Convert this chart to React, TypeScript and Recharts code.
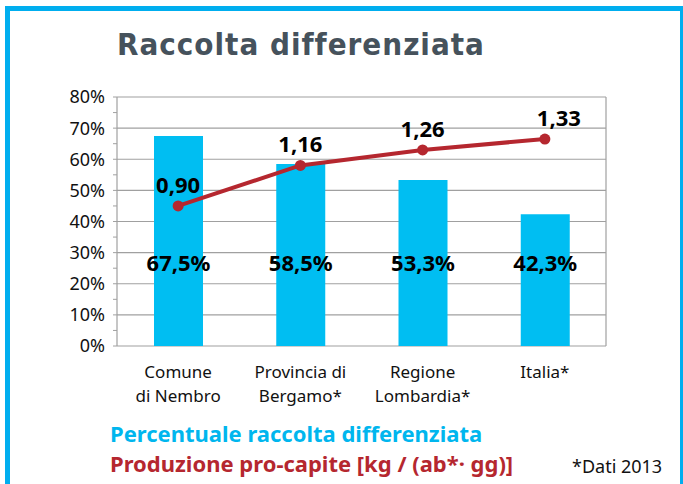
import React from "react";
import {
  Bar,
  CartesianGrid,
  ComposedChart,
  LabelList,
  Line,
  XAxis,
  YAxis,
} from "recharts";

// values
const categories = [
  "Comune\ndi Nembro",
  "Provincia di\nBergamo*",
  "Regione\nLombardia*",
  "Italia*",
];
const percentuale = [67.5, 58.5, 53.3, 42.3];
const proCapite = [0.9, 1.16, 1.26, 1.33];

const pctTicks = [0, 5, 10, 15, 20, 25, 30, 35, 40, 45, 50, 55, 60, 65, 70, 75, 80];
const pctMajor = [0, 10, 20, 30, 40, 50, 60, 70, 80];
const kgTicks = [0, 0.1, 0.2, 0.3, 0.4, 0.5, 0.6, 0.7, 0.8, 0.9, 1, 1.1, 1.2, 1.3, 1.4, 1.5, 1.6];
const edgeTicks = [0, 1, 2, 3, 4];

const data = categories.map((name, i) => ({
  name,
  pct: percentuale[i],
  kg: proCapite[i],
}));

const CYAN = "#00BEF2";
const RED = "#B5272F";
const GRID = "#a0a0a0";
const FONT = "'Noto Sans', sans-serif";

const CategoryTick = (props: any) => {
  const { x, y, payload } = props;
  const lines = String(payload.value).split("\n");
  return (
    <text x={x} y={y} textAnchor="middle" fontFamily={FONT} fontSize={17} fill="#111">
      {lines.map((l, i) => (
        <tspan key={i} x={x} y={y + 32 + i * 24}>
          {l}
        </tspan>
      ))}
    </text>
  );
};

const BarValue = (props: any) => {
  const { x, y, width, height, value } = props;
  return (
    <text
      x={x + width / 2}
      y={y + height - 75}
      textAnchor="middle"
      fontFamily={FONT}
      fontWeight={700}
      fontSize={22}
      fill="#000"
    >
      {Number(value).toFixed(1).replace(".", ",")}%
    </text>
  );
};

const LineValue = (props: any) => {
  const { x, y, value, index } = props;
  const dx = index === data.length - 1 ? 14 : 0;
  return (
    <text
      x={x + dx}
      y={y - 13}
      textAnchor="middle"
      fontFamily={FONT}
      fontWeight={700}
      fontSize={22}
      fill="#000"
    >
      {Number(value).toFixed(2).replace(".", ",")}
    </text>
  );
};

export default function App() {
  return (
    <div
      style={{
        position: "absolute",
        left: 0,
        top: 0,
        width: 683,
        height: 484,
        background: "#fff",
        overflow: "hidden",
      }}
    >
      <div
        style={{
          position: "absolute",
          left: 5,
          top: 6,
          width: 680,
          height: 520,
          boxSizing: "border-box",
          border: "5px solid #00AEEF",
        }}
      />
      <div
        style={{
          position: "absolute",
          left: 117,
          top: 29,
          fontFamily: "'DejaVu Sans', sans-serif",
          fontStretch: "condensed",
          fontWeight: 700,
          fontSize: 31,
          lineHeight: "31px",
          letterSpacing: 1,
          color: "#46525C",
          whiteSpace: "nowrap",
        }}
      >
        Raccolta differenziata
      </div>

      <div style={{ position: "absolute", left: 0, top: 0 }}>
        <ComposedChart
          width={683}
          height={420}
          data={data}
          margin={{ top: 97, right: 67, bottom: 0, left: 0 }}
        >
          <CartesianGrid
            xAxisId="cat"
            yAxisId="pct"
            vertical={false}
            horizontalValues={pctMajor}
            stroke={GRID}
            strokeWidth={1.2}
          />
          <XAxis
            xAxisId="edge"
            type="number"
            domain={[0, 4]}
            ticks={edgeTicks}
            allowDataOverflow
            tick={false}
            tickSize={5}
            tickLine={{ stroke: GRID }}
            axisLine={{ stroke: GRID, strokeWidth: 1.2 }}
            height={0}
          />
          <XAxis
            xAxisId="cat"
            dataKey="name"
            axisLine={false}
            tickLine={false}
            tickSize={0}
            tickMargin={0}
            interval={0}
            height={74}
            tick={<CategoryTick />}
          />
          <YAxis
            yAxisId="pct"
            domain={[0, 80]}
            ticks={pctTicks}
            interval={0}
            width={117}
            tickSize={4}
            tickMargin={8}
            tickFormatter={(v: number) => (v % 10 === 0 ? `${v}%` : "")}
            tick={{ fill: "#111", fontSize: 18, fontFamily: FONT }}
            tickLine={{ stroke: GRID }}
            axisLine={{ stroke: GRID, strokeWidth: 1.2 }}
          />
          <YAxis
            yAxisId="kg"
            orientation="right"
            domain={[0, 1.6]}
            ticks={kgTicks}
            interval={0}
            width={10}
            tick={false}
            tickSize={4}
            tickLine={{ stroke: GRID }}
            axisLine={{ stroke: GRID, strokeWidth: 1.2 }}
          />
          <Bar
            xAxisId="cat"
            yAxisId="pct"
            dataKey="pct"
            fill={CYAN}
            barSize={49}
            isAnimationActive={false}
          >
            <LabelList dataKey="pct" content={<BarValue />} />
          </Bar>
          <Line
            xAxisId="cat"
            yAxisId="kg"
            dataKey="kg"
            stroke={RED}
            strokeWidth={4}
            dot={{ r: 5.5, fill: RED, stroke: RED, strokeWidth: 0 }}
            isAnimationActive={false}
          >
            <LabelList dataKey="kg" content={<LineValue />} />
          </Line>
        </ComposedChart>
      </div>

      <div
        style={{
          position: "absolute",
          left: 110,
          top: 422,
          fontFamily: FONT,
          fontWeight: 700,
          fontSize: 22,
          lineHeight: "22px",
          color: "#00B6EE",
          whiteSpace: "nowrap",
        }}
      >
        Percentuale raccolta differenziata
      </div>
      <div
        style={{
          position: "absolute",
          left: 110,
          top: 452,
          fontFamily: FONT,
          fontWeight: 700,
          fontSize: 22,
          lineHeight: "22px",
          color: RED,
          whiteSpace: "nowrap",
        }}
      >
        Produzione pro-capite [kg / (ab*· gg)]
      </div>
      <div
        style={{
          position: "absolute",
          left: 572,
          top: 457,
          fontFamily: FONT,
          fontSize: 18,
          lineHeight: "18px",
          color: "#111",
          whiteSpace: "nowrap",
        }}
      >
        *Dati 2013
      </div>
    </div>
  );
}
